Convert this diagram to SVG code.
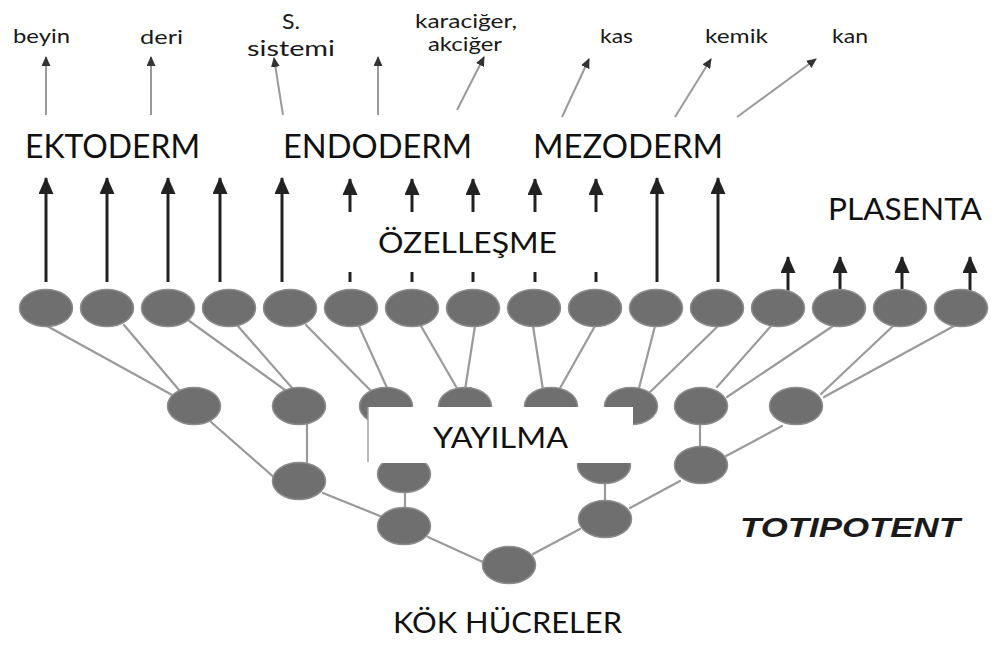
<svg xmlns="http://www.w3.org/2000/svg" width="992" height="646" viewBox="0 0 992 646">
<style>
.cell{fill:#6f6f6f;stroke:#8c8c8c;stroke-width:1.5}
.link{stroke:#9a9a9a;stroke-width:2.2;fill:none;stroke-linecap:round}
.thick{stroke:#222;stroke-width:3;fill:none}
.thin{stroke:#9a9a9a;stroke-width:2;fill:none}
.big{font-family:Lato,"Open Sans",sans-serif;fill:#111}
.small{font-family:Lato,"Open Sans",sans-serif;fill:#1a1a1a;font-size:19px}
.mid{font-family:Lato,"Open Sans",sans-serif;fill:#1a1a1a;font-size:22px}
.toti{font-family:"Liberation Sans",Arial,sans-serif;font-weight:bold;font-style:italic;fill:#1a1a1a;font-size:28px}
</style>
<defs>
<marker id="bigHead" viewBox="0 0 17 15" markerWidth="17" markerHeight="15" refX="16" refY="7.5" orient="auto" markerUnits="userSpaceOnUse">
<path d="M0,0 L17,7.5 L0,15 Z" fill="#222"/>
</marker>
<marker id="thinHead" viewBox="0 0 10 9" markerWidth="10" markerHeight="9" refX="9" refY="4.5" orient="auto" markerUnits="userSpaceOnUse">
<path d="M0,0 L10,4.5 L0,9 Z" fill="#333"/>
</marker>
</defs>
<rect width="992" height="646" fill="#fff"/>

<g id="connectors">
<line class="link" x1="47" y1="326" x2="174" y2="396"/>
<line class="link" x1="124" y1="325" x2="179" y2="390"/>
<line class="link" x1="188" y1="320" x2="285" y2="390"/>
<line class="link" x1="237" y1="325" x2="293" y2="389"/>
<line class="link" x1="306" y1="325" x2="377" y2="397"/>
<line class="link" x1="359" y1="326" x2="388" y2="390"/>
<line class="link" x1="421" y1="326" x2="458" y2="390"/>
<line class="link" x1="475" y1="326" x2="465" y2="390"/>
<line class="link" x1="533" y1="326" x2="543" y2="390"/>
<line class="link" x1="595" y1="326" x2="559" y2="390"/>
<line class="link" x1="655" y1="326" x2="638" y2="392"/>
<line class="link" x1="718" y1="326" x2="648" y2="394"/>
<line class="link" x1="771" y1="326" x2="717" y2="387"/>
<line class="link" x1="833" y1="326" x2="727" y2="397"/>
<line class="link" x1="893" y1="326" x2="821" y2="394"/>
<line class="link" x1="954" y1="326" x2="824" y2="397"/>
<line class="link" x1="211" y1="422" x2="276" y2="479"/>
<line class="link" x1="307" y1="422" x2="307" y2="465"/>
<line class="link" x1="323" y1="493" x2="380" y2="516"/>
<line class="link" x1="405" y1="488" x2="405" y2="510"/>
<line class="link" x1="428" y1="537" x2="485" y2="563"/>
<line class="link" x1="533" y1="554" x2="580" y2="529"/>
<line class="link" x1="605" y1="480" x2="605" y2="502"/>
<line class="link" x1="630" y1="508" x2="680" y2="481"/>
<line class="link" x1="700" y1="422" x2="700" y2="450"/>
<line class="link" x1="726" y1="456" x2="782" y2="426"/>
<line class="thick" x1="46" y1="282" x2="46" y2="178" marker-end="url(#bigHead)"/>
<line class="thick" x1="107" y1="282" x2="107" y2="178" marker-end="url(#bigHead)"/>
<line class="thick" x1="168" y1="282" x2="168" y2="178" marker-end="url(#bigHead)"/>
<line class="thick" x1="220" y1="282" x2="220" y2="178" marker-end="url(#bigHead)"/>
<line class="thick" x1="282" y1="282" x2="282" y2="178" marker-end="url(#bigHead)"/>
<line class="thick" x1="350" y1="212" x2="350" y2="179" marker-end="url(#bigHead)"/>
<line class="thick" x1="412" y1="212" x2="412" y2="179" marker-end="url(#bigHead)"/>
<line class="thick" x1="473" y1="212" x2="473" y2="179" marker-end="url(#bigHead)"/>
<line class="thick" x1="535" y1="212" x2="535" y2="179" marker-end="url(#bigHead)"/>
<line class="thick" x1="596" y1="212" x2="596" y2="179" marker-end="url(#bigHead)"/>
<line class="thick" x1="350" y1="272" x2="350" y2="282"/>
<line class="thick" x1="412" y1="272" x2="412" y2="282"/>
<line class="thick" x1="473" y1="272" x2="473" y2="282"/>
<line class="thick" x1="535" y1="272" x2="535" y2="282"/>
<line class="thick" x1="596" y1="272" x2="596" y2="282"/>
<line class="thick" x1="657" y1="282" x2="657" y2="178" marker-end="url(#bigHead)"/>
<line class="thick" x1="718" y1="282" x2="718" y2="178" marker-end="url(#bigHead)"/>
<line class="thick" x1="788" y1="292" x2="788" y2="257" marker-end="url(#bigHead)"/>
<line class="thick" x1="840" y1="292" x2="840" y2="257" marker-end="url(#bigHead)"/>
<line class="thick" x1="902" y1="292" x2="902" y2="257" marker-end="url(#bigHead)"/>
<line class="thick" x1="970" y1="292" x2="970" y2="257" marker-end="url(#bigHead)"/>
<line class="thin" x1="46" y1="115" x2="46" y2="57" marker-end="url(#thinHead)"/>
<line class="thin" x1="151" y1="115" x2="151" y2="57" marker-end="url(#thinHead)"/>
<line class="thin" x1="283" y1="115" x2="274" y2="58" marker-end="url(#thinHead)"/>
<line class="thin" x1="378" y1="115" x2="378" y2="57" marker-end="url(#thinHead)"/>
<line class="thin" x1="457" y1="110" x2="484" y2="57" marker-end="url(#thinHead)"/>
<line class="thin" x1="562" y1="117" x2="589" y2="59" marker-end="url(#thinHead)"/>
<line class="thin" x1="675" y1="117" x2="711" y2="59" marker-end="url(#thinHead)"/>
<line class="thin" x1="737" y1="117" x2="816" y2="59" marker-end="url(#thinHead)"/>
</g>

<g id="row1">
<ellipse class="cell" cx="46" cy="308" rx="26.5" ry="18.5"/>
<ellipse class="cell" cx="107" cy="308" rx="26.5" ry="18.5"/>
<ellipse class="cell" cx="168" cy="308" rx="26.5" ry="18.5"/>
<ellipse class="cell" cx="229" cy="308" rx="26.5" ry="18.5"/>
<ellipse class="cell" cx="290" cy="308" rx="26.5" ry="18.5"/>
<ellipse class="cell" cx="351" cy="308" rx="26.5" ry="18.5"/>
<ellipse class="cell" cx="412" cy="308" rx="26.5" ry="18.5"/>
<ellipse class="cell" cx="473" cy="308" rx="26.5" ry="18.5"/>
<ellipse class="cell" cx="534" cy="308" rx="26.5" ry="18.5"/>
<ellipse class="cell" cx="595" cy="308" rx="26.5" ry="18.5"/>
<ellipse class="cell" cx="656" cy="308" rx="26.5" ry="18.5"/>
<ellipse class="cell" cx="717" cy="308" rx="26.5" ry="18.5"/>
<ellipse class="cell" cx="778" cy="308" rx="26.5" ry="18.5"/>
<ellipse class="cell" cx="839" cy="308" rx="26.5" ry="18.5"/>
<ellipse class="cell" cx="900" cy="308" rx="26.5" ry="18.5"/>
<ellipse class="cell" cx="961" cy="308" rx="26.5" ry="18.5"/>
</g>
<g id="row2">
<ellipse class="cell" cx="194" cy="406" rx="26.5" ry="18.5"/>
<ellipse class="cell" cx="299" cy="406" rx="26.5" ry="18.5"/>
<ellipse class="cell" cx="386" cy="406" rx="26.5" ry="18.5"/>
<ellipse class="cell" cx="465" cy="406" rx="26.5" ry="18.5"/>
<ellipse class="cell" cx="551" cy="406" rx="26.5" ry="18.5"/>
<ellipse class="cell" cx="631" cy="406" rx="26.5" ry="18.5"/>
<ellipse class="cell" cx="701" cy="406" rx="26.5" ry="18.5"/>
<ellipse class="cell" cx="796" cy="406" rx="26.5" ry="18.5"/>
</g>
<g id="row3">
<ellipse class="cell" cx="299" cy="481" rx="26.5" ry="18.5"/>
<ellipse class="cell" cx="404" cy="474" rx="26.5" ry="18.5"/>
<ellipse class="cell" cx="604" cy="465" rx="26.5" ry="18.5"/>
<ellipse class="cell" cx="701" cy="465" rx="26.5" ry="18.5"/>
</g>
<g id="row4">
<ellipse class="cell" cx="404" cy="526" rx="26.5" ry="18.5"/>
<ellipse class="cell" cx="605" cy="519" rx="26.5" ry="18.5"/>
</g>
<g id="root">
<ellipse class="cell" cx="509" cy="565" rx="26.5" ry="18.5"/>
</g>

<g id="yayilma-box">
<rect x="368" y="407" width="265" height="56" fill="#fff"/>
<line x1="368" y1="407" x2="368" y2="462" stroke="#a0a0a0" stroke-width="1.5"/>
<text class="big" x="433" y="448" font-size="29" textLength="135" lengthAdjust="spacingAndGlyphs">YAYILMA</text>
</g>

<g id="labels">
<text class="big" x="25" y="158" font-size="32" textLength="175" lengthAdjust="spacingAndGlyphs">EKTODERM</text>
<text class="big" x="283" y="158" font-size="32" textLength="189" lengthAdjust="spacingAndGlyphs">ENDODERM</text>
<text class="big" x="533" y="158" font-size="32" textLength="190" lengthAdjust="spacingAndGlyphs">MEZODERM</text>
<text class="big" x="378" y="253" font-size="28" textLength="179" lengthAdjust="spacingAndGlyphs">ÖZELLEŞME</text>
<text class="big" x="828" y="220" font-size="30" textLength="154" lengthAdjust="spacingAndGlyphs">PLASENTA</text>
<text class="big" x="393" y="633" font-size="28" textLength="229" lengthAdjust="spacingAndGlyphs">KÖK HÜCRELER</text>
<text class="toti" x="740" y="537" textLength="220" lengthAdjust="spacingAndGlyphs">TOTIPOTENT</text>
<text class="small" x="13" y="43" textLength="57" lengthAdjust="spacingAndGlyphs">beyin</text>
<text class="small" x="140" y="44" textLength="43" lengthAdjust="spacingAndGlyphs">deri</text>
<text class="mid" x="282" y="29" textLength="18" lengthAdjust="spacingAndGlyphs">S.</text>
<text class="mid" x="247" y="56" textLength="88" lengthAdjust="spacingAndGlyphs">sistemi</text>
<text class="small" x="415" y="28" textLength="102" lengthAdjust="spacingAndGlyphs">karaciğer,</text>
<text class="small" x="428" y="51" textLength="74" lengthAdjust="spacingAndGlyphs">akciğer</text>
<text class="small" x="600" y="43" textLength="33" lengthAdjust="spacingAndGlyphs">kas</text>
<text class="small" x="705" y="43" textLength="63" lengthAdjust="spacingAndGlyphs">kemik</text>
<text class="small" x="832" y="43" textLength="36" lengthAdjust="spacingAndGlyphs">kan</text>
</g>
</svg>
